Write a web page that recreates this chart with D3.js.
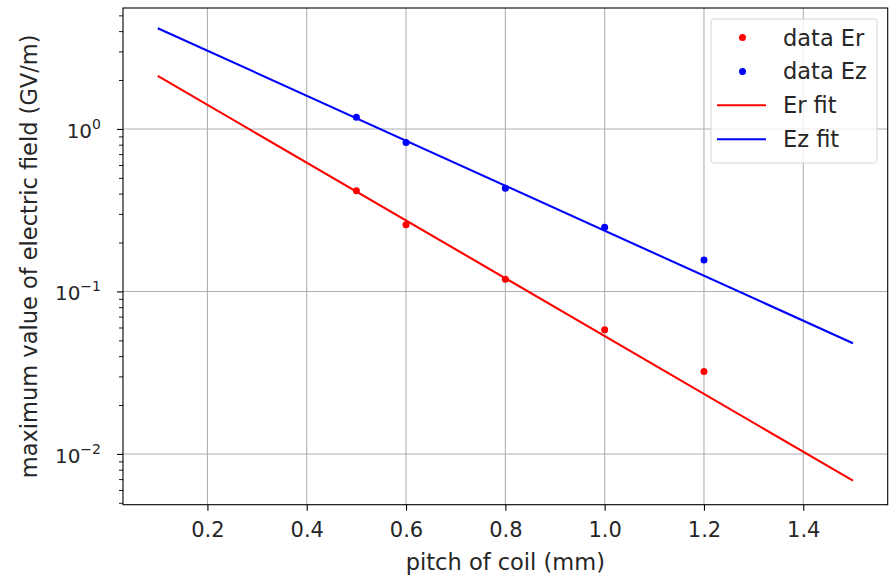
<!DOCTYPE html>
<html>
<head>
<meta charset="utf-8">
<script src="https://cdn.jsdelivr.net/npm/d3@7"></script>
<style>
  html, body { margin: 0; padding: 0; background: #fff; }
  svg { display: block; font-family: "DejaVu Sans", sans-serif; }
</style>
</head>
<body>
<svg id="chart" width="890" height="577"></svg>
<script>
// Measured pitch values (mm) and peak field magnitudes (GV/m)
const pitch = [0.5, 0.6, 0.8, 1.0, 1.2];
const dataEr = [0.417, 0.257, 0.119, 0.058, 0.0321];
const dataEz = [1.18, 0.824, 0.432, 0.248, 0.156];

// Exponential fits, evaluated at the ends of the fitted range
const fitPitch = [0.1, 1.5];
const fitEr = [2.12, 0.00685];
const fitEz = [4.17, 0.048];

const xTicks = [0.2, 0.4, 0.6, 0.8, 1.0, 1.2, 1.4];
const yTicks = [0.01, 0.1, 1];
const yExponents = ["\u22122", "\u22121", "0"];

const W = 890, H = 577;
const m = { left: 123, top: 8, right: 890 - 887.7, bottom: 577 - 504.7 };
const pw = W - m.left - m.right, ph = H - m.top - m.bottom;
const ink = "#262626";

const svg = d3.select("#chart");
const g = svg.append("g").attr("transform", `translate(${m.left},${m.top})`);

const x = d3.scaleLinear().domain([0.03, 1.57]).range([0, pw]);
const y = d3.scaleLog().domain([0.00487, 5.55]).range([ph, 0]);

// grid
g.append("g").selectAll("line").data(xTicks).join("line")
  .attr("x1", d => x(d)).attr("x2", d => x(d)).attr("y1", 0).attr("y2", ph)
  .attr("stroke", "#b0b0b0").attr("stroke-width", 1.1);
g.append("g").selectAll("line").data(yTicks).join("line")
  .attr("y1", d => y(d)).attr("y2", d => y(d)).attr("x1", 0).attr("x2", pw)
  .attr("stroke", "#b0b0b0").attr("stroke-width", 1.1);

// fit lines
const line = d3.line().x(d => x(d[0])).y(d => y(d[1]));
g.append("path").datum(fitPitch.map((p, i) => [p, fitEr[i]]))
  .attr("d", line).attr("fill", "none").attr("stroke", "#ff0000").attr("stroke-width", 2.1);
g.append("path").datum(fitPitch.map((p, i) => [p, fitEz[i]]))
  .attr("d", line).attr("fill", "none").attr("stroke", "#0000ff").attr("stroke-width", 2.1);

// data points
g.append("g").selectAll("circle").data(pitch.map((p, i) => [p, dataEr[i]])).join("circle")
  .attr("cx", d => x(d[0])).attr("cy", d => y(d[1])).attr("r", 3.5).attr("fill", "#ff0000");
g.append("g").selectAll("circle").data(pitch.map((p, i) => [p, dataEz[i]])).join("circle")
  .attr("cx", d => x(d[0])).attr("cy", d => y(d[1])).attr("r", 3.5).attr("fill", "#0000ff");

// x axis
const xAxis = g.append("g").attr("transform", `translate(0,${ph})`)
  .call(d3.axisBottom(x).tickValues(xTicks).tickFormat(d3.format(".1f")).tickSize(6));
xAxis.select(".domain").remove();
xAxis.selectAll("line").attr("stroke", "#000").attr("stroke-width", 1.1);
xAxis.selectAll("text").attr("font-size", 21).attr("fill", ink)
  .attr("font-family", "DejaVu Sans").attr("y", 32.3).attr("dy", "0");

// y axis: minor ticks
const minor = [];
for (let e = -3; e <= 0; e++) for (let k = 2; k <= 9; k++) {
  const v = k * Math.pow(10, e);
  if (v >= y.domain()[0] && v <= y.domain()[1]) minor.push(v);
}
const yMinor = g.append("g").call(d3.axisLeft(y).tickValues(minor).tickFormat("").tickSize(4));
yMinor.select(".domain").remove();
yMinor.selectAll("line").attr("stroke", "#000").attr("stroke-width", 0.9);

// y axis: major ticks with power-of-ten labels
const yAxis = g.append("g").call(d3.axisLeft(y).tickValues(yTicks).tickFormat("").tickSize(6));
yAxis.select(".domain").remove();
yAxis.selectAll("line").attr("stroke", "#000").attr("stroke-width", 1.1);
yAxis.selectAll(".tick").each(function(d, i) {
  const t = d3.select(this).append("text")
    .attr("x", -22).attr("y", 8.5).attr("text-anchor", "end")
    .attr("font-size", 20).attr("fill", ink).attr("font-family", "DejaVu Sans");
  t.append("tspan").text("10");
  t.append("tspan").attr("dy", -9).attr("font-size", 14).text(yExponents[i]);
});

// frame
g.append("rect").attr("width", pw).attr("height", ph)
  .attr("fill", "none").attr("stroke", "#000").attr("stroke-width", 1.1);

// axis titles
svg.append("text").attr("x", m.left + pw / 2).attr("y", 570).attr("text-anchor", "middle")
  .attr("font-size", 22.5).attr("fill", ink).text("pitch of coil (mm)");
svg.append("text").attr("transform", `translate(37,${m.top + ph / 2}) rotate(-90)`)
  .attr("text-anchor", "middle").attr("font-size", 22.5).attr("fill", ink)
  .text("maximum value of electric field (GV/m)");

// legend
const legendItems = [
  { label: "data Er", color: "#ff0000", type: "dot" },
  { label: "data Ez", color: "#0000ff", type: "dot" },
  { label: "Er fit", color: "#ff0000", type: "line" },
  { label: "Ez fit", color: "#0000ff", type: "line" }
];
const lg = svg.append("g").attr("transform", "translate(711,19)");
lg.append("rect").attr("width", 166).attr("height", 144).attr("rx", 3)
  .attr("fill", "#fff").attr("fill-opacity", 0.8).attr("stroke", "#d6d6d6").attr("stroke-width", 1);
legendItems.forEach((it, i) => {
  const cy = 18.5 + i * 33.9;
  if (it.type === "dot") {
    lg.append("circle").attr("cx", 31.5).attr("cy", cy).attr("r", 3.5).attr("fill", it.color);
  } else {
    lg.append("line").attr("x1", 6).attr("x2", 55).attr("y1", cy).attr("y2", cy)
      .attr("stroke", it.color).attr("stroke-width", 2.1);
  }
  lg.append("text").attr("x", 72).attr("y", cy + 8).attr("font-size", 22.5)
    .attr("fill", ink).text(it.label);
});
</script>
</body>
</html>
